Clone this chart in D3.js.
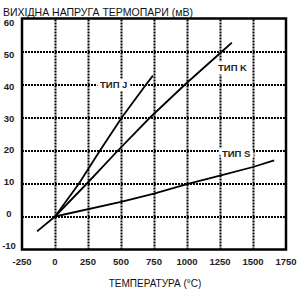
<!DOCTYPE html>
<html><head><meta charset="utf-8">
<script src="https://cdn.jsdelivr.net/npm/d3@7"></script>
</head>
<body style="margin:0">
<script>
// ---- data ----
const xTicks = [-250, 0, 250, 500, 750, 1000, 1250, 1500, 1750];
const yTicks = [-10, 0, 10, 20, 30, 40, 50, 60];
const typeJ = [[0,0],[182,10],[341,20],[506,30],[690,40],[742,42.7]];
const typeK = [[-136,-4.5],[0,0],[242,10],[477,20],[720,30],[985,40],[1265,50],[1340,52.7]];
const typeS = [[0,0],[500,4.4],[750,6.9],[1000,9.8],[1250,12.4],[1500,15],[1660,17]];
const labelNames = ["ТИП J", "ТИП K", "ТИП S"];
const labelTemps = [341, 1235, 1265];
const labelMv = [38.8, 44, 17.9];
const titleText = "ВИХІДНА НАПРУГА ТЕРМОПАРИ (мВ)";
const xTitleText = "ТЕМПЕРАТУРА (°C)";

// ---- layout ----
const svg = d3.select("body").append("svg").attr("width", 300).attr("height", 294);
const x = d3.scaleLinear().domain([-250, 1750]).range([22, 286]);
const y = d3.scaleLinear().domain([-10, 60]).range([249.5, 18.5]);
const yLab = d3.scaleLinear().domain([-10, 60]).range([245.5, 23]);
const font = "Liberation Sans, Arial, Helvetica, sans-serif";
const labelSize = 9.5;
const plotH = y(-10) - y(60), plotW = x(1750) - x(-250);

// dotted gridlines via d3 axes
const gx = svg.append("g").attr("transform", `translate(0,${y(-10)})`)
  .call(d3.axisBottom(x).tickValues(xTicks.slice(1, -1)).tickSize(-plotH).tickFormat(""));
const gy = svg.append("g").attr("transform", `translate(${x(-250)},0)`)
  .call(d3.axisLeft(y).tickValues(yTicks.slice(1, -1)).tickSize(-plotW).tickFormat(""));
[gx, gy].forEach(g => {
  g.select(".domain").remove();
  g.selectAll(".tick line").attr("stroke", "#000").attr("stroke-width", 2).attr("stroke-dasharray", "2,1");
});

// lines
const line = d3.line().x(d => x(d[0])).y(d => y(d[1]));
[typeJ, typeK, typeS].forEach(s => {
  svg.append("path").attr("d", line(s)).attr("fill", "none").attr("stroke", "#000").attr("stroke-width", 1.8);
});

// label texts with white halo masking the grid
labelNames.forEach((name, i) => {
  svg.append("text").attr("x", x(labelTemps[i])).attr("y", y(labelMv[i]))
    .attr("font-family", font).attr("font-size", labelSize).attr("font-weight", "bold").attr("fill", "#222")
    .attr("stroke", "#fff").attr("stroke-width", 7).attr("stroke-linejoin", "round")
    .attr("paint-order", "stroke")
    .text(name);
});

// border
svg.append("rect").attr("x", x(-250)).attr("y", y(60)).attr("width", plotW).attr("height", plotH)
  .attr("fill", "none").attr("stroke", "#000").attr("stroke-width", 2.5);

// tick labels
xTicks.forEach(d => {
  svg.append("text").attr("x", x(d)).attr("y", 265).attr("text-anchor", "middle")
    .attr("font-family", font).attr("font-size", 9.5).attr("font-weight", "bold").attr("fill", "#222")
    .text(d);
});
yTicks.forEach(d => {
  svg.append("text").attr("x", 9).attr("y", yLab(d) + 3.3).attr("text-anchor", "middle")
    .attr("font-family", font).attr("font-size", 9.5).attr("font-weight", "bold").attr("fill", "#222")
    .text(d);
});

// titles
svg.append("text").attr("x", 3).attr("y", 15.5)
  .attr("font-family", font).attr("font-size", 10.5).attr("fill", "#111").text(titleText);
svg.append("text").attr("x", 155).attr("y", 287).attr("text-anchor", "middle")
  .attr("font-family", font).attr("font-size", 10).attr("fill", "#111").text(xTitleText);
</script>
</body></html>
